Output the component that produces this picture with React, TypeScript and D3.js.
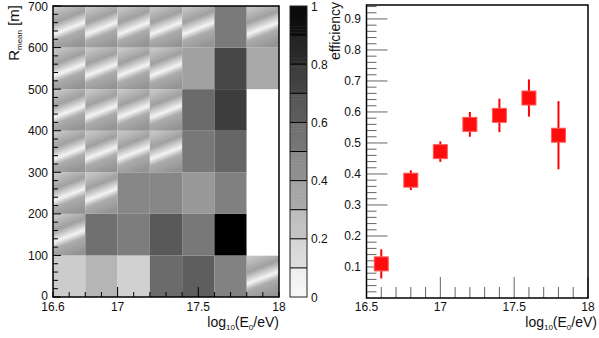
import { useMemo } from 'react'
import * as d3 from 'd3'

// left panel: efficiency map, rows from R = 0 upward, null = overflow (hatched) cell
const eEdges = [16.6, 16.8, 17.0, 17.2, 17.4, 17.6, 17.8, 18.0]
const rEdges = [0, 100, 200, 300, 400, 500, 600, 700]
const effRow0 = [0.2, 0.29, 0.18, 0.58, 0.63, 0.49, null]
const effRow1 = [null, 0.56, 0.51, 0.65, 0.53, 1.0, 0]
const effRow2 = [null, null, 0.47, 0.47, 0.4, 0.5, 0]
const effRow3 = [null, null, null, null, 0.53, 0.6, 0]
const effRow4 = [null, null, null, null, 0.58, 0.76, 0]
const effRow5 = [null, null, null, null, 0.37, 0.72, 0.34]
const effRow6 = [null, null, null, null, null, 0.52, null]
const effMap = [effRow0, effRow1, effRow2, effRow3, effRow4, effRow5, effRow6]
const rTicks = [0, 100, 200, 300, 400, 500, 600, 700]
const eTicksLeft = [16.6, 17, 17.5, 18]
const zTicks = [0, 0.2, 0.4, 0.6, 0.8, 1]

// right panel: efficiency vs energy
const energies = [16.6, 16.8, 17.0, 17.2, 17.4, 17.6, 17.8]
const efficiency = [0.11, 0.38, 0.472, 0.56, 0.589, 0.645, 0.525]
const effErr = [0.047, 0.032, 0.033, 0.04, 0.054, 0.06, 0.11]
const effTicks = [0.1, 0.2, 0.3, 0.4, 0.5, 0.6, 0.7, 0.8, 0.9]
const eTicksRight = [16.5, 17, 17.5, 18]

const FONT = '"Liberation Sans", Arial, sans-serif'

const LogLabel = ({ x, y }: { x: number; y: number }) => (
  <text x={x} y={y} textAnchor="end" fontSize={14} fill="#111">
    log
    <tspan fontSize={8} dy={3}>10</tspan>
    <tspan dy={-3}>(E</tspan>
    <tspan fontSize={8} dy={3}>0</tspan>
    <tspan dy={-3}>/eV)</tspan>
  </text>
)

export default function App() {
  const width = 599
  const height = 338

  const xL = useMemo(() => d3.scaleLinear().domain([16.6, 18]).range([53, 279]), [])
  const yL = useMemo(() => d3.scaleLinear().domain([0, 700]).range([297, 6]), [])
  const zY = useMemo(() => d3.scaleLinear().domain([0, 1]).range([297, 6]), [])
  const gray = (v: number) => {
    const g = Math.round(255 * (1 - v))
    return `rgb(${g},${g},${g})`
  }
  const xR = useMemo(() => d3.scaleLinear().domain([16.5, 18]).range([366.5, 588]), [])
  const yR = useMemo(() => d3.scaleLinear().domain([0, 0.945]).range([298, 5]), [])

  const cells = effMap.flatMap((row, j) =>
    row.map((v, i) => {
      const x0 = xL(eEdges[i])
      const x1 = xL(eEdges[i + 1])
      const y0 = yL(rEdges[j + 1])
      const y1 = yL(rEdges[j])
      return (
        <rect
          key={`c${i}-${j}`}
          x={x0}
          y={y0}
          width={x1 - x0}
          height={y1 - y0}
          fill={v === null ? 'url(#hatch)' : gray(v)}
        />
      )
    })
  )

  // minor ticks
  const rMinor = d3.range(0, 701, 20)
  const eMinorL = d3.range(16.6, 18.001, 0.1)
  const zSlices = d3.range(0, 1, 0.01)
  const eMinorR = d3.range(16.5, 18.001, 0.1)
  const effMinor = d3.range(0.02, 0.945, 0.02)

  return (
    <svg width={width} height={height} style={{ display: 'block', fontFamily: FONT }}>
      <style>{`body{margin:0}`}</style>
      <defs>
        <linearGradient id="hatch" x1="0.3" y1="0" x2="0.6" y2="1">
          <stop offset="0" stopColor="#c4c4c4" />
          <stop offset="0.3" stopColor="#a0a0a0" />
          <stop offset="0.55" stopColor="#f4f4f4" />
          <stop offset="0.7" stopColor="#acacac" />
          <stop offset="1" stopColor="#949494" />
        </linearGradient>
      </defs>
      <rect width={width} height={height} fill="white" />

      {/* ---------- left: map ---------- */}
      <g>{cells}</g>
      <g stroke="#000" strokeWidth={1}>
        {rMinor.map((r) => (
          <line key={`rm${r}`} x1={xL(16.6)} x2={xL(16.6) + (r % 100 === 0 ? 8 : 5)} y1={yL(r)} y2={yL(r)} />
        ))}
        {eMinorL.map((e, i) => {
          const major = Math.abs(e - 17) < 0.01 || Math.abs(e - 17.5) < 0.01
          return <line key={`em${i}`} x1={xL(e)} x2={xL(e)} y1={yL(0)} y2={yL(0) - (major ? 10 : 5)} />
        })}
      </g>
      <rect x={xL(16.6)} y={yL(700)} width={xL(18) - xL(16.6)} height={yL(0) - yL(700)} fill="none" stroke="#000" strokeWidth={1.5} />
      <g fontSize={12} fill="#111">
        {rTicks.map((r) => (
          <text key={`rt${r}`} x={48} y={yL(r) + (r === 0 ? 3 : 4.5)} textAnchor="end">{r}</text>
        ))}
        {eTicksLeft.map((e) => (
          <text key={`et${e}`} x={xL(e)} y={311} textAnchor="middle">{e}</text>
        ))}
      </g>
      <text transform="translate(19,5) rotate(-90)" textAnchor="end" fontSize={15} fill="#111">
        R<tspan fontSize={8} dy={3}>mean</tspan>
        <tspan dy={-3}> [m]</tspan>
      </text>
      <LogLabel x={279} y={327} />

      {/* ---------- colour bar ---------- */}
      {zSlices.map((z, i) => {
        const band = Math.floor(z * 10 + 1e-6) / 10
        const v = band + (z - band) * 0.35 + 0.03
        return <rect key={`z${i}`} x={290} y={zY(z + 0.01)} width={17} height={zY(z) - zY(z + 0.01) + 0.5} fill={gray(v)} />
      })}
      <g stroke="#000" strokeWidth={1}>
        {d3.range(0.1, 0.95, 0.1).map((z, i) => (
          <line key={`zl${i}`} x1={290} x2={307} y1={zY(z)} y2={zY(z)} />
        ))}
      </g>
      <rect x={290} y={zY(1)} width={17} height={zY(0) - zY(1)} fill="none" stroke="#222" strokeWidth={1} />
      <g fontSize={12} fill="#111">
        {zTicks.map((z) => (
          <text key={`zt${z}`} x={311} y={zY(z) + 4.5}>{z}</text>
        ))}
      </g>
      <text transform="translate(340,2) rotate(-90)" textAnchor="end" fontSize={14} fill="#111">efficiency</text>

      {/* ---------- right: efficiency vs energy ---------- */}
      <g stroke="#666" strokeWidth={1}>
        {effMinor.map((v, i) => {
          const major = Math.abs(v * 10 - Math.round(v * 10)) < 0.01
          return <line key={`ym${i}`} x1={xR(16.5)} x2={xR(16.5) + (major ? 21 : 10)} y1={yR(v)} y2={yR(v)} />
        })}
        {eMinorR.map((e, i) => {
          const major = Math.abs(e * 2 - Math.round(e * 2)) < 0.01
          return <line key={`xm${i}`} x1={xR(e)} x2={xR(e)} y1={yR(0)} y2={yR(0) - (major ? 21 : 11)} />
        })}
      </g>
      <g>
        {energies.map((e, i) => (
          <g key={`p${i}`}>
            <line x1={xR(e)} x2={xR(e)} y1={yR(efficiency[i] - effErr[i])} y2={yR(efficiency[i] + effErr[i])} stroke="#f00" strokeWidth={2} />
            <rect x={xR(e) - 7} y={yR(efficiency[i]) - 7} width={14} height={14} fill="#ff0c0c" stroke="#ff5a5a" strokeWidth={1} />
          </g>
        ))}
      </g>
      <rect x={xR(16.5)} y={yR(0.945)} width={xR(18) - xR(16.5)} height={yR(0) - yR(0.945)} fill="none" stroke="#000" strokeWidth={1.5} />
      <g fontSize={12} fill="#111">
        {effTicks.map((v) => (
          <text key={`yt${v}`} x={361} y={yR(v) + 4.5} textAnchor="end">{v}</text>
        ))}
        {eTicksRight.map((e) => (
          <text key={`xt${e}`} x={xR(e)} y={311} textAnchor="middle">{e}</text>
        ))}
      </g>
      <LogLabel x={597} y={327} />
    </svg>
  )
}
